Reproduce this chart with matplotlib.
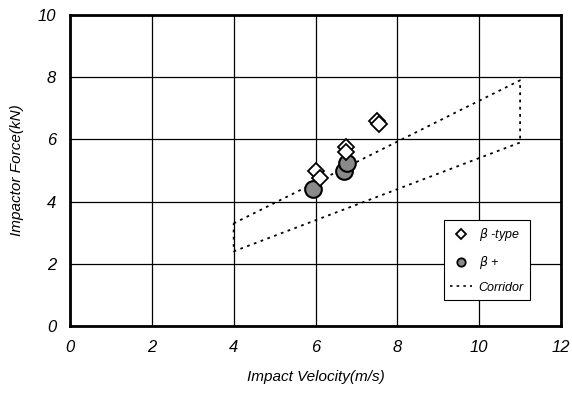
import matplotlib
matplotlib.use("Agg")
import matplotlib.pyplot as plt
from matplotlib.lines import Line2D

plt.rcParams['font.family'] = ['Liberation Sans', 'DejaVu Sans']

# data
beta_type_v = [6.0, 6.1, 6.75, 6.75, 7.5, 7.55]
beta_type_f = [5.0, 4.75, 5.75, 5.6, 6.6, 6.5]
beta_plus_v = [5.95, 6.7, 6.78]
beta_plus_f = [4.4, 5.0, 5.25]
corridor_v = [4, 11, 11, 4, 4]
corridor_f = [3.3, 7.9, 5.9, 2.4, 3.3]

xticks = [0, 2, 4, 6, 8, 10, 12]
yticks = [0, 2, 4, 6, 8, 10]

fig = plt.figure(figsize=(5.72, 3.93), dpi=100)
ax = fig.add_axes([0.1224, 0.1705, 0.8584, 0.7913])

ax.set_xlim(0, 12)
ax.set_ylim(0, 10)
ax.set_xticks(xticks)
ax.set_yticks(yticks)
ax.grid(True, color='black', linewidth=0.9)
ax.set_axisbelow(True)
for s in ax.spines.values():
    s.set_linewidth(2)
ax.tick_params(length=0, labelsize=12, pad=10)
for lbl in ax.get_xticklabels() + ax.get_yticklabels():
    lbl.set_style('italic')

ax.plot(corridor_v, corridor_f, linestyle=(0, (1.5, 2.5)), color='black', linewidth=1.3)
ax.plot(beta_plus_v, beta_plus_f, 'o', markersize=12, markerfacecolor='#8a8a8a',
        markeredgecolor='black', markeredgewidth=1.5, linestyle='none')
ax.plot(beta_type_v, beta_type_f, 'D', markersize=8.5, markerfacecolor='white',
        markeredgecolor='black', markeredgewidth=1.3, linestyle='none')

ax.set_xlabel('Impact Velocity(m/s)', fontsize=11, style='italic', labelpad=11)
ax.set_ylabel('Impactor Force(kN)', fontsize=11, style='italic', labelpad=10)

handles = [
    Line2D([], [], marker='D', markersize=5, markerfacecolor='white', markeredgecolor='black',
           markeredgewidth=1.3, linestyle='none'),
    Line2D([], [], marker='o', markersize=6, markerfacecolor='#8a8a8a', markeredgecolor='black',
           markeredgewidth=1.3, linestyle='none'),
    Line2D([], [], color='black', linestyle=(0, (1.5, 2.5)), linewidth=1.2),
]
leg = ax.legend(handles, [r'$\beta$ -type', r'$\beta$ +', 'Corridor'],
                loc='lower right', bbox_to_anchor=(0.937, 0.084), fancybox=False,
                edgecolor='black', framealpha=1, fontsize=9, handlelength=1.8,
                handletextpad=0.5, labelspacing=0.85, borderpad=0.5, borderaxespad=0)
leg.get_frame().set_linewidth(0.8)
for t in leg.get_texts():
    t.set_style('italic')

fig.savefig('out.png', dpi=100)
